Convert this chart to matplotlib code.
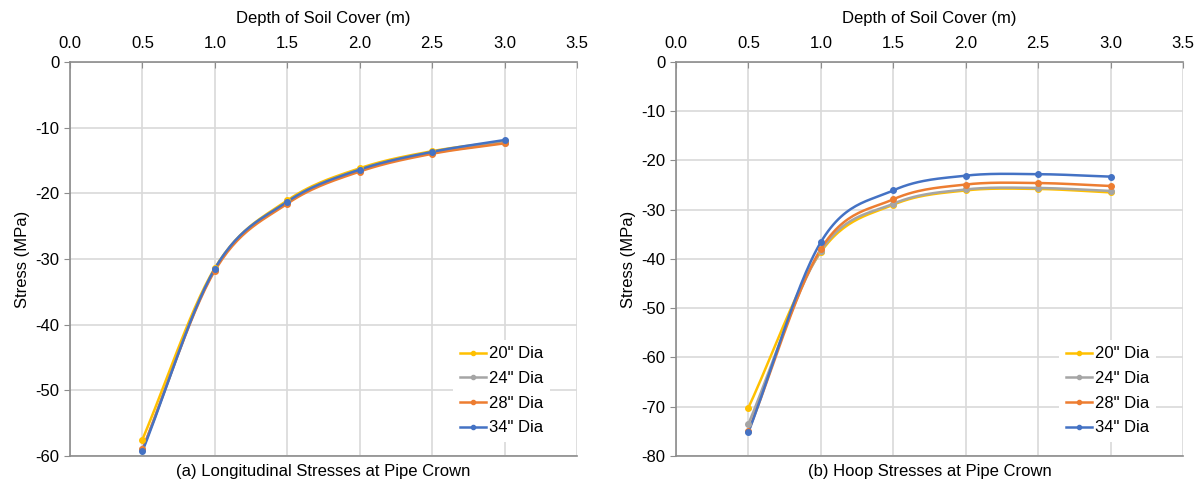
import numpy as np
import matplotlib
matplotlib.use("Agg")
import matplotlib.pyplot as plt

plt.rcParams['font.family'] = ['Liberation Sans', 'DejaVu Sans']
plt.rcParams['axes.unicode_minus'] = False

depth = [0.5, 1.0, 1.5, 2.0, 2.5, 3.0]
labels = ['20" Dia', '24" Dia', '28" Dia', '34" Dia']
colors = ['#FFC000', '#A5A5A5', '#ED7D31', '#4472C4']

long_20 = [-57.5, -31.4, -21.1, -16.2, -13.6, -12.1]
long_24 = [-59.0, -31.6, -21.4, -16.5, -13.9, -12.3]
long_28 = [-59.0, -31.8, -21.6, -16.7, -14.0, -12.4]
long_34 = [-59.3, -31.5, -21.3, -16.4, -13.7, -11.9]

hoop_20 = [-70.2, -38.6, -29.0, -26.1, -25.8, -26.5]
hoop_24 = [-73.5, -38.4, -28.8, -25.9, -25.6, -26.2]
hoop_28 = [-75.0, -38.0, -27.9, -24.9, -24.6, -25.2]
hoop_34 = [-75.2, -36.6, -26.1, -23.1, -22.8, -23.3]


def smooth(x, y, n=30):
    # catmull-rom style curve through the points, like excel smoothed lines
    x = np.asarray(x, float)
    y = np.asarray(y, float)
    px = np.concatenate([[2 * x[0] - x[1]], x, [2 * x[-1] - x[-2]]])
    py = np.concatenate([[2 * y[0] - y[1]], y, [2 * y[-1] - y[-2]]])
    xs, ys = [], []
    t = np.linspace(0, 1, n)
    for i in range(1, len(px) - 2):
        for p, out in ((px, xs), (py, ys)):
            p0, p1, p2, p3 = p[i - 1], p[i], p[i + 1], p[i + 2]
            out.extend(0.5 * ((2 * p1) + (-p0 + p2) * t
                              + (2 * p0 - 5 * p1 + 4 * p2 - p3) * t ** 2
                              + (-p0 + 3 * p1 - 3 * p2 + p3) * t ** 3))
    return xs, ys


def panel(ax, series, ymin, caption):
    for s, lab, c in zip(series, labels, colors):
        sx, sy = smooth(depth, s)
        ax.plot(sx, sy, color=c, lw=1.8, zorder=3)
        ax.plot(depth, s, 'o', color=c, ms=4, zorder=4)
        ax.plot([], [], '-o', color=c, lw=1.8, ms=3, label=lab)
    ax.set_xlim(0, 3.5)
    ax.set_ylim(ymin, 0)
    ax.set_xticks(np.arange(0, 3.51, 0.5))
    ax.set_xticklabels([f'{v:.1f}' for v in np.arange(0, 3.51, 0.5)])
    ax.set_yticks(np.arange(ymin, 1, 10))
    ax.xaxis.tick_top()
    ax.xaxis.set_label_position('top')
    ax.set_xlabel('Depth of Soil Cover (m)', fontsize=12, labelpad=9)
    ax.set_ylabel('Stress (MPa)', fontsize=12, labelpad=4)
    ax.grid(True, color='#D9D9D9', lw=1.2)
    ax.set_axisbelow(True)
    ax.spines['right'].set_visible(False)
    for sp in ('top', 'left', 'bottom'):
        ax.spines[sp].set_color('#8C8C8C')
        ax.spines[sp].set_linewidth(1.2)
    ax.tick_params(axis='x', direction='in', length=4, color='#8C8C8C',
                   labelsize=12, pad=8)
    ax.tick_params(axis='y', direction='out', length=4, color='#8C8C8C',
                   labelsize=12)
    ax.text(0.5, -0.02, caption, transform=ax.transAxes, ha='center',
            va='top', fontsize=12)
    leg = ax.legend(loc='lower right', bbox_to_anchor=(0.966, 0.01),
                    frameon=True, fontsize=12, handlelength=1.6,
                    handletextpad=0.15, labelspacing=0.58, borderaxespad=0.6)
    leg.get_frame().set_edgecolor('none')
    leg.get_frame().set_facecolor('white')
    leg.get_frame().set_alpha(1)


fig = plt.figure(figsize=(12, 4.87), dpi=100)
ax1 = fig.add_axes([0.0583, 0.0637, 0.4225, 0.8093])
ax2 = fig.add_axes([0.5633, 0.0637, 0.4225, 0.8093])

panel(ax1, [long_20, long_24, long_28, long_34], -60,
      '(a) Longitudinal Stresses at Pipe Crown')
panel(ax2, [hoop_20, hoop_24, hoop_28, hoop_34], -80,
      '(b) Hoop Stresses at Pipe Crown')

fig.savefig('out.png', dpi=100)
